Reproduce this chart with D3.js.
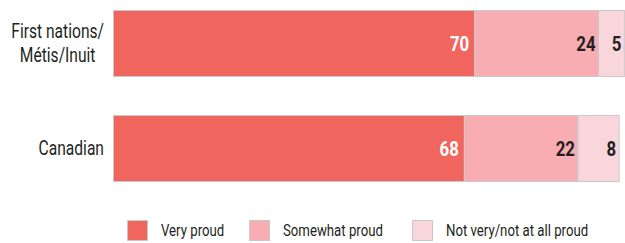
<!DOCTYPE html>
<html>
<head>
<meta charset="utf-8">
<script src="https://cdn.jsdelivr.net/npm/d3@7"></script>
<style>
  body { margin: 0; background: #fff; }
  text { font-family: Roboto, "Liberation Sans", sans-serif; fill: #231f20; }
</style>
</head>
<body>
<svg></svg>
<script>
var width = 625,
    height = 243,
    narrow = 0.8;   // no condensed font installed, squeeze text horizontally

var categories = [["First nations/", "Métis/Inuit"], ["Canadian"]];
var series = ["Very proud", "Somewhat proud", "Not very/not at all proud"];
var veryProud = [70, 68];
var somewhatProud = [24, 22];
var notProud = [5, 8];
var colors = ["#f0665f", "#f7adb1", "#f9d6dc"];

var values = [veryProud, somewhatProud, notProud];
var rows = categories.map(function(c, i) {
  var x0 = 0;
  return {
    label: c,
    segs: values.map(function(v, s) {
      var seg = { s: s, v: v[i], x0: x0, x1: x0 + v[i] };
      x0 += v[i];
      return seg;
    })
  };
});

var x = d3.scaleLinear().domain([0, 100]).range([113, 629]);
var y = d3.scaleBand().domain(d3.range(categories.length)).range([10, 181]).paddingInner(0.371);

var svg = d3.select('svg')
  .attr("width", width)
  .attr("height", height);

function place(px, py) {
  return 'translate(' + px + ',' + py + ') scale(' + narrow + ',1)';
}

var row = svg.selectAll('g.row')
  .data(rows)
  .enter()
    .append('g')
    .attr('class', 'row')
    .attr('transform', function(d, i) { return 'translate(0,' + y(i) + ')'; });

row.selectAll('rect')
  .data(function(d) { return d.segs; })
  .enter()
    .append('rect')
    .attr('x', function(d) { return x(d.x0) + 0.5; })
    .attr('y', 0.5)
    .attr('width', function(d) { return x(d.x1) - x(d.x0); })
    .attr('height', y.bandwidth())
    .attr('fill', function(d) { return colors[d.s]; })
    .attr('stroke', '#c9c9c9')
    .attr('stroke-width', 1);

row.selectAll('text.val')
  .data(function(d) { return d.segs; })
  .enter()
    .append('text')
    .attr('class', 'val')
    .attr('transform', function(d) {
      return place(x(d.x1) - (d.s == 0 ? 5 : 2.5), y.bandwidth() / 2 + 8);
    })
    .attr('text-anchor', 'end')
    .style('font-size', '21px')
    .style('font-weight', 'bold')
    .style('fill', function(d) { return d.s == 0 ? '#fff' : '#231f20'; })
    .text(function(d) { return d.v; });

// category labels, lines centred on the widest line, right edge at 104
row.each(function(d) {
  var g = d3.select(this);
  var n = d.label.length;
  var t = g.append('text')
    .style('font-size', '19.5px')
    .attr('text-anchor', 'middle');
  d.label.forEach(function(line, k) {
    t.append('tspan')
      .attr('x', 0)
      .attr('dy', k == 0 ? 0 : 25)
      .text(line);
  });
  var w = d3.max(t.selectAll('tspan').nodes(), function(n) { return n.getComputedTextLength(); }) * narrow;
  t.attr('transform', place(104 - w / 2, y.bandwidth() / 2 + 7 - (n - 1) * 12.5));
});

var legendX = [127, 249, 412];
var legend = svg.selectAll('g.legend')
  .data(series)
  .enter()
    .append('g')
    .attr('class', 'legend')
    .attr('transform', function(d, i) { return 'translate(' + legendX[i] + ',220)'; });

legend.append('rect')
  .attr('x', 0.5)
  .attr('y', 0.5)
  .attr('width', 20)
  .attr('height', 20)
  .attr('fill', function(d, i) { return colors[i]; })
  .attr('stroke', '#c9c9c9');

legend.append('text')
  .attr('transform', place(34, 16))
  .style('font-size', '16.5px')
  .text(function(d) { return d; });
</script>
</body>
</html>
